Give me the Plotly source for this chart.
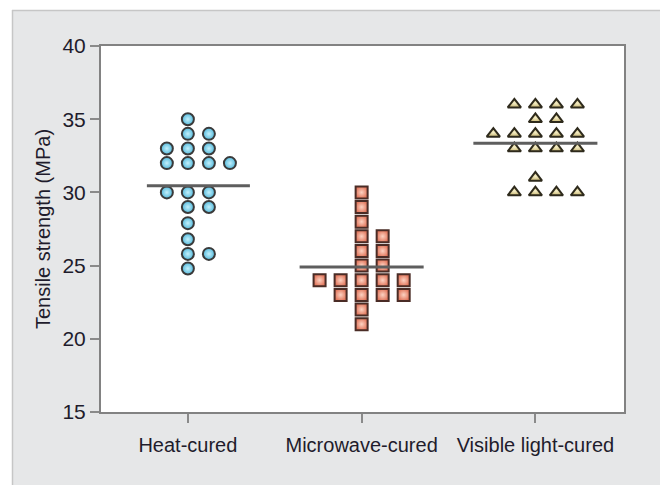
import numpy as np
import plotly.graph_objects as go

categories = ["Heat-cured", "Microwave-cured", "Visible light-cured"]

heat_cured = [35, 34, 34, 33, 33, 33, 32, 32, 32, 32,
              30, 30, 30, 29, 29, 27.9, 26.8, 25.8, 25.8, 24.8]
microwave_cured = [30, 29, 28, 27, 27, 26, 26, 25, 25, 24,
                   24, 24, 24, 24, 23, 23, 23, 23, 22, 21]
visible_light_cured = [36, 36, 36, 36, 35, 35, 34, 34, 34, 34,
                       34, 33, 33, 33, 33, 31, 30, 30, 30, 30]

y_ticks = [15, 20, 25, 30, 35, 40]

series = [heat_cured, microwave_cured, visible_light_cured]

styles = [
    dict(symbol="circle", size=12, color="#52b9dc", grad="#c4f0fb", line="#3a3a3a"),
    dict(symbol="square", size=12, color="#e2785e", grad="#fcd2c2", line="#4a2c26"),
    dict(symbol="triangle-up", size=11.5, color="#c9b874", grad="#f6efc8", line="#2e2a1c"),
]

SLOT = 0.121  # horizontal spacing between dots (in category units)


def dot_slots(vals):
    """Dot-plot layout: equal values spread sideways as 0, +1, -1, +2, -2 ..."""
    order = [0, 1, -1, 2, -2, 3, -3]
    counts = {}
    slots = []
    for v in vals:
        k = round(v, 1)
        n = counts.get(k, 0)
        slots.append(order[n])
        counts[k] = n + 1
    return np.array(slots)


fig = go.Figure()

for i, (vals, st) in enumerate(zip(series, styles)):
    slots = dot_slots(vals)
    xs = i + slots * SLOT
    fig.add_trace(go.Scatter(
        x=xs, y=vals, mode="markers", showlegend=False,
        marker=dict(symbol=st["symbol"], size=st["size"], color=st["color"],
                    gradient=dict(type="radial", color=st["grad"]),
                    line=dict(color=st["line"], width=2)),
        hoverinfo="y",
    ))
    m = float(np.mean(vals))
    x0 = i + (slots.min() - 0.95) * SLOT
    x1 = i + (slots.max() + 0.95) * SLOT
    fig.add_trace(go.Scatter(
        x=[x0, x1], y=[m, m], mode="lines", showlegend=False,
        line=dict(color="#5e5e5e", width=3), hoverinfo="skip",
    ))

fig.update_layout(
    width=660, height=485,
    margin=dict(l=101, r=36, t=46, b=73),
    paper_bgcolor="#e6e7e8",
    plot_bgcolor="#ffffff",
    font=dict(family="Liberation Sans, Arial, sans-serif", color="#1f1c2c", size=21),
    xaxis=dict(
        range=[-0.5, 2.51], tickvals=[0, 1, 2], ticktext=categories,
        showgrid=False, zeroline=False,
        showline=True, mirror=True, linecolor="#828282", linewidth=2,
        ticks="outside", ticklen=9, tickcolor="#8a8a8a", tickwidth=1.5,
        tickfont=dict(size=20), ticklabelstandoff=5,
    ),
    yaxis=dict(
        range=[15, 40], tickvals=y_ticks,
        showgrid=False, zeroline=False,
        showline=True, mirror=True, linecolor="#828282", linewidth=2,
        ticks="outside", ticklen=9, tickcolor="#8a8a8a", tickwidth=1.5,
        tickfont=dict(size=21),
        title=dict(text="Tensile strength (MPa)", font=dict(size=20), standoff=6),
    ),
    shapes=[
        dict(type="rect", xref="paper", yref="paper",
             x0=-0.25, x1=1.2, y0=(412 - 10) / 366, y1=1.3,
             fillcolor="#ffffff", line=dict(width=0), layer="below"),
        dict(type="rect", xref="paper", yref="paper",
             x0=-0.25, x1=(12 - 101) / 523, y0=-0.3, y1=1.3,
             fillcolor="#ffffff", line=dict(width=0), layer="below"),
        dict(type="line", xref="paper", yref="paper",
             x0=(12 - 101) / 523, x1=1.2, y0=(412 - 10.5) / 366, y1=(412 - 10.5) / 366,
             line=dict(color="#c6c6c6", width=1.5), layer="below"),
        dict(type="line", xref="paper", yref="paper",
             x0=(12.5 - 101) / 523, x1=(12.5 - 101) / 523, y0=-0.3, y1=(412 - 10) / 366,
             line=dict(color="#c6c6c6", width=1.5), layer="below"),
    ],
)

fig.write_html("out.html", config={"displayModeBar": False},
               post_script="document.body.style.margin='0';")
